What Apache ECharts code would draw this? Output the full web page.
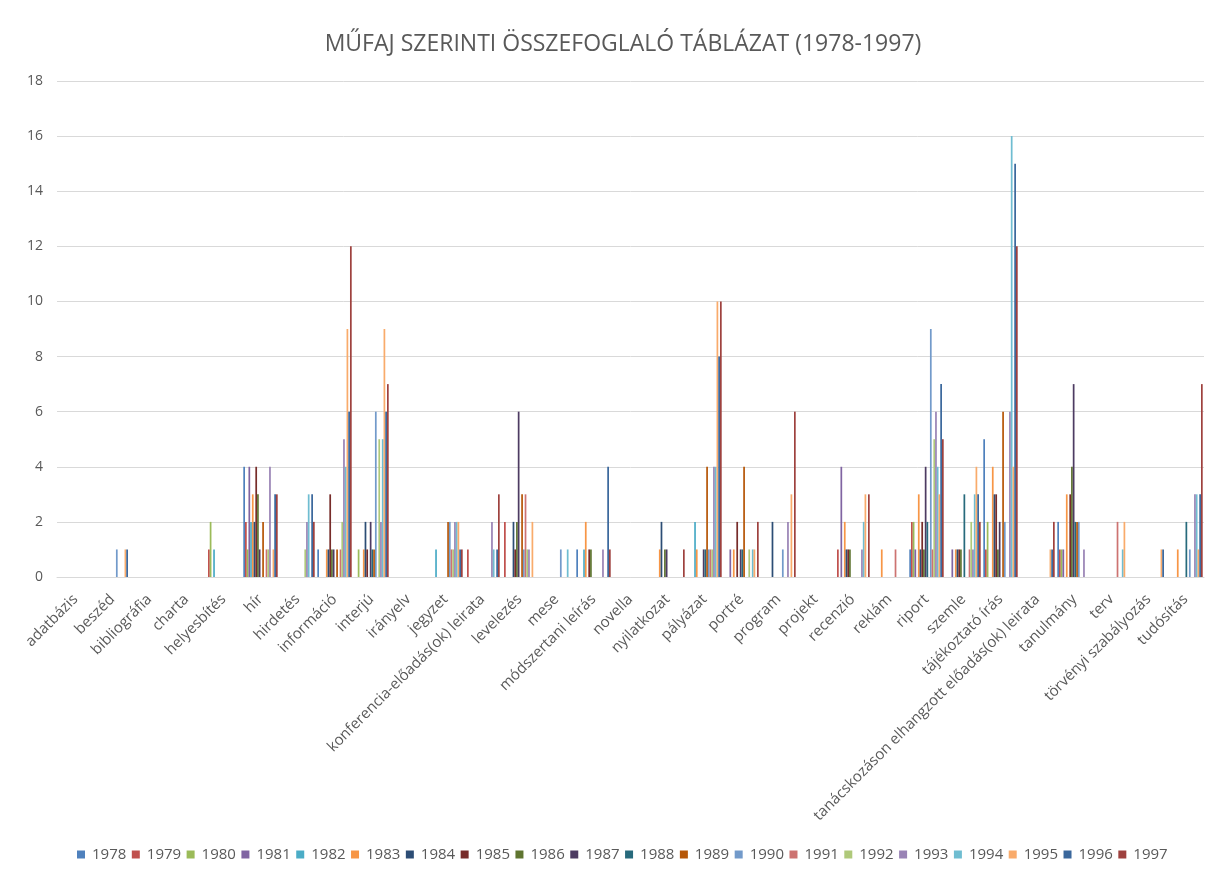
<!DOCTYPE html>
<html>
<head>
<meta charset="utf-8">
<script src="https://cdn.jsdelivr.net/npm/echarts@6/dist/echarts.min.js"></script>
<style>
html,body{margin:0;padding:0;background:#fff;}
#chart{width:1215px;height:876px;}
</style>
</head>
<body>
<div id="chart"></div>
<script>
var categories = ["adatbázis","beszéd","bibliográfia","charta","helyesbítés","hír","hirdetés","információ","interjú","irányelv","jegyzet","konferencia-előadás(ok) leirata","levelezés","mese","módszertani leírás","novella","nyilatkozat","pályázat","portré","program","projekt","recenzió","reklám","riport","szemle","tájékoztató írás","tanácskozáson elhangzott előadás(ok) leirata","tanulmány","terv","törvényi szabályozás","tudósítás"];
var years = ["1978","1979","1980","1981","1982","1983","1984","1985","1986","1987","1988","1989","1990","1991","1992","1993","1994","1995","1996","1997"];
var yTicks = [0,2,4,6,8,10,12,14,16,18];

var v1978 = [0,0,0,0,0,4,0,1,0,0, 0,0,0,0,1,0,0,0,0,0, 0,0,0,1,0,5,0,2,0,0,0];
var v1979 = [0,0,0,0,1,2,0,0,0,0, 0,1,2,0,0,0,0,0,0,0, 0,1,0,2,0,1,0,1,0,0,0];
var v1980 = [0,0,0,0,2,1,0,0,1,0, 0,0,0,0,0,0,0,0,0,0, 0,0,0,2,0,2,0,1,0,0,0];
var v1981 = [0,0,0,0,0,4,0,0,0,0, 0,0,0,0,0,0,0,0,1,0, 0,4,0,1,1,0,0,1,0,0,0];
var v1982 = [0,0,0,0,1,2,0,0,0,0, 1,0,0,0,1,0,0,2,0,0, 0,0,0,0,0,0,0,0,0,0,0];
var v1983 = [0,0,0,0,0,3,0,1,1,0, 0,0,0,0,2,0,1,1,1,0, 0,2,1,3,1,4,0,3,0,0,1];
var v1984 = [0,0,0,0,0,2,0,1,2,0, 0,0,2,0,0,0,2,0,0,2, 0,1,0,1,1,3,0,0,0,0,0];
var v1985 = [0,0,0,0,0,4,0,3,1,0, 0,0,1,0,1,0,0,0,2,0, 0,1,0,2,1,3,0,3,0,0,0];
var v1986 = [0,0,0,0,0,3,0,1,0,0, 0,0,2,0,1,0,1,0,0,0, 0,1,0,1,1,1,0,4,0,0,0];
var v1987 = [0,0,0,0,0,1,0,1,2,0, 0,0,6,0,0,0,1,1,1,0, 0,0,0,4,0,2,0,7,0,0,0];
var v1988 = [0,0,0,0,0,0,0,0,1,0, 0,0,0,0,0,0,0,1,1,0, 0,0,0,2,3,0,0,2,0,0,2];
var v1989 = [0,0,0,0,0,2,0,1,1,0, 2,0,3,0,0,0,0,4,4,0, 0,0,0,0,0,6,0,2,0,0,0];
var v1990 = [0,1,0,0,0,0,0,0,6,0, 2,0,1,1,0,0,0,1,0,1, 0,0,0,9,0,2,0,2,0,0,1];
var v1991 = [0,0,0,0,0,1,0,1,0,0, 1,0,3,0,0,0,0,1,0,0, 0,0,1,1,1,0,0,0,2,0,0];
var v1992 = [0,0,0,0,0,1,1,2,5,0, 1,0,1,0,0,0,0,1,1,0, 0,0,0,5,2,0,0,0,0,0,0];
var v1993 = [0,0,0,0,0,4,2,5,2,0, 2,2,1,0,1,0,0,4,0,2, 0,1,0,6,1,6,0,1,0,0,3];
var v1994 = [0,0,0,0,0,0,3,4,5,0, 2,1,0,1,0,0,0,4,1,0, 0,2,0,4,3,16,0,0,1,0,3];
var v1995 = [0,1,0,0,0,1,0,9,9,0, 2,0,2,0,0,0,0,10,1,3, 0,3,0,3,4,4,1,0,2,1,1];
var v1996 = [0,1,0,0,0,3,3,6,6,0, 1,1,0,0,4,0,0,8,0,0, 0,0,0,7,3,15,1,0,0,1,3];
var v1997 = [0,0,0,0,0,3,2,12,7,0, 1,3,0,0,1,0,1,10,2,6, 0,3,0,5,2,12,2,0,0,0,7];

var seriesValues = [v1978,v1979,v1980,v1981,v1982,v1983,v1984,v1985,v1986,v1987,v1988,v1989,v1990,v1991,v1992,v1993,v1994,v1995,v1996,v1997];
var colors = ["#4F81BD","#C0504D","#9BBB59","#8064A2","#4BACC6","#F79646","#2C4D75","#772C2A","#5F7530","#4D3B62","#276A7C","#B65708","#729ACA","#CD7371","#AFC97A","#9983B5","#6FBDD1","#F9AB6B","#3A679C","#9E413E"];

var FONT = "'Open Sans', 'Liberation Sans', sans-serif";
var series = years.map(function(y, i){
  return {
    name: y, type: 'bar', data: seriesValues[i],
    barGap: '0%', barCategoryGap: '7%',
    itemStyle: {color: colors[i]},
    animation: false
  };
});

var chart = echarts.init(document.getElementById('chart'), null, {renderer:'canvas'});
chart.setOption({
  animation: false,
  color: colors,
  title: {
    text: 'MŰFAJ SZERINTI ÖSSZEFOGLALÓ TÁBLÁZAT (1978-1997)',
    left: 618, textAlign: 'center', top: 28,
    textStyle: {fontFamily: FONT, fontSize: 23, fontWeight: 'normal', color: '#595959'}
  },
  legend: {
    data: years, top: 842, left: 72,
    icon: 'rect', itemWidth: 8, itemHeight: 8, itemGap: 5.5,
    textStyle: {fontFamily: FONT, fontSize: 15, color: '#595959', padding: [0, 0, 0, 2]}
  },
  grid: {left: 57, right: 11, top: 81, bottom: 299, containLabel: false},
  xAxis: {
    type: 'category', data: categories,
    axisLine: {lineStyle: {color: '#D9D9D9'}},
    axisTick: {show: false},
    axisLabel: {interval: 0, rotate: 45, fontFamily: FONT, fontSize: 15, color: '#595959', margin: 20}
  },
  yAxis: {
    type: 'value', min: yTicks[0], max: yTicks[yTicks.length-1], interval: 2,
    axisLine: {show: false}, axisTick: {show: false},
    splitLine: {lineStyle: {color: '#D9D9D9', width: 1}},
    axisLabel: {fontFamily: FONT, fontSize: 14, color: '#595959', margin: 14}
  },
  series: series
});
</script>
</body>
</html>
